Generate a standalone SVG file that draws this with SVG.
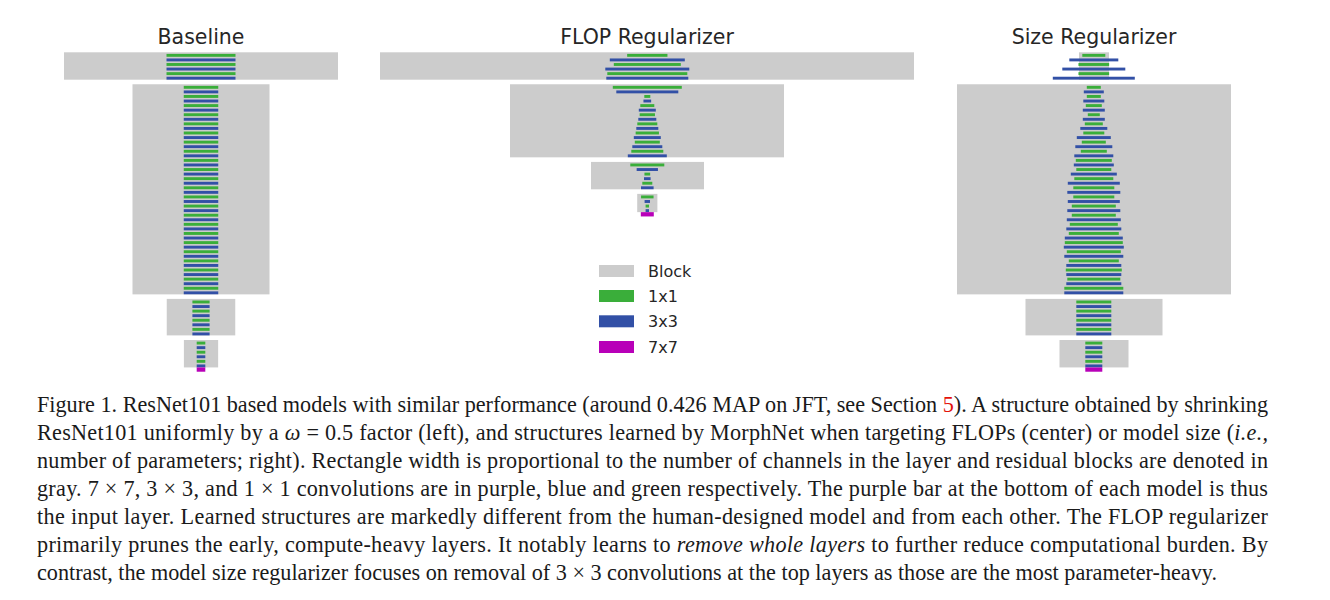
<svg xmlns="http://www.w3.org/2000/svg" width="1330" height="600" viewBox="0 0 1330 600">
<style>
.blk{fill:#cccccc}
.g{fill:#3aae3a}
.b{fill:#3250a6}
.p{fill:#b800b8}
.title{font-family:"DejaVu Sans",sans-serif;font-size:20.5px;fill:#262626;text-anchor:middle}
.leg{font-family:"DejaVu Sans",sans-serif;font-size:16px;fill:#262626}
.cap{font-family:"Liberation Serif",serif;font-size:22.2px;fill:#1a1a1a}
.it{font-style:italic}
.red{fill:#e3120b}
</style>
<rect width="1330" height="600" fill="#ffffff"/>

<g id="baseline">
<text class="title" x="201" y="44">Baseline</text>
<g id="baseline-stage5">
<rect class="blk" x="64" y="52.3" width="274" height="27.4"/>
<rect class="g" x="166.5" y="53.90" width="69" height="2.9"/>
<rect class="b" x="166.5" y="58.47" width="69" height="2.9"/>
<rect class="g" x="166.5" y="63.03" width="69" height="2.9"/>
<rect class="b" x="166.5" y="67.60" width="69" height="2.9"/>
<rect class="g" x="166.5" y="72.17" width="69" height="2.9"/>
<rect class="b" x="166.5" y="76.74" width="69" height="2.9"/>
</g>
<g id="baseline-stage4">
<rect class="blk" x="132.5" y="84.27" width="137" height="210.1"/>
<rect class="g" x="183.75" y="85.87" width="34.5" height="2.9"/>
<rect class="b" x="183.75" y="90.44" width="34.5" height="2.9"/>
<rect class="g" x="183.75" y="95.00" width="34.5" height="2.9"/>
<rect class="b" x="183.75" y="99.57" width="34.5" height="2.9"/>
<rect class="g" x="183.75" y="104.14" width="34.5" height="2.9"/>
<rect class="b" x="183.75" y="108.70" width="34.5" height="2.9"/>
<rect class="g" x="183.75" y="113.27" width="34.5" height="2.9"/>
<rect class="b" x="183.75" y="117.84" width="34.5" height="2.9"/>
<rect class="g" x="183.75" y="122.41" width="34.5" height="2.9"/>
<rect class="b" x="183.75" y="126.97" width="34.5" height="2.9"/>
<rect class="g" x="183.75" y="131.54" width="34.5" height="2.9"/>
<rect class="b" x="183.75" y="136.11" width="34.5" height="2.9"/>
<rect class="g" x="183.75" y="140.67" width="34.5" height="2.9"/>
<rect class="b" x="183.75" y="145.24" width="34.5" height="2.9"/>
<rect class="g" x="183.75" y="149.81" width="34.5" height="2.9"/>
<rect class="b" x="183.75" y="154.37" width="34.5" height="2.9"/>
<rect class="g" x="183.75" y="158.94" width="34.5" height="2.9"/>
<rect class="b" x="183.75" y="163.51" width="34.5" height="2.9"/>
<rect class="g" x="183.75" y="168.08" width="34.5" height="2.9"/>
<rect class="b" x="183.75" y="172.64" width="34.5" height="2.9"/>
<rect class="g" x="183.75" y="177.21" width="34.5" height="2.9"/>
<rect class="b" x="183.75" y="181.78" width="34.5" height="2.9"/>
<rect class="g" x="183.75" y="186.34" width="34.5" height="2.9"/>
<rect class="b" x="183.75" y="190.91" width="34.5" height="2.9"/>
<rect class="g" x="183.75" y="195.48" width="34.5" height="2.9"/>
<rect class="b" x="183.75" y="200.04" width="34.5" height="2.9"/>
<rect class="g" x="183.75" y="204.61" width="34.5" height="2.9"/>
<rect class="b" x="183.75" y="209.18" width="34.5" height="2.9"/>
<rect class="g" x="183.75" y="213.75" width="34.5" height="2.9"/>
<rect class="b" x="183.75" y="218.31" width="34.5" height="2.9"/>
<rect class="g" x="183.75" y="222.88" width="34.5" height="2.9"/>
<rect class="b" x="183.75" y="227.45" width="34.5" height="2.9"/>
<rect class="g" x="183.75" y="232.01" width="34.5" height="2.9"/>
<rect class="b" x="183.75" y="236.58" width="34.5" height="2.9"/>
<rect class="g" x="183.75" y="241.15" width="34.5" height="2.9"/>
<rect class="b" x="183.75" y="245.71" width="34.5" height="2.9"/>
<rect class="g" x="183.75" y="250.28" width="34.5" height="2.9"/>
<rect class="b" x="183.75" y="254.85" width="34.5" height="2.9"/>
<rect class="g" x="183.75" y="259.42" width="34.5" height="2.9"/>
<rect class="b" x="183.75" y="263.98" width="34.5" height="2.9"/>
<rect class="g" x="183.75" y="268.55" width="34.5" height="2.9"/>
<rect class="b" x="183.75" y="273.12" width="34.5" height="2.9"/>
<rect class="g" x="183.75" y="277.68" width="34.5" height="2.9"/>
<rect class="b" x="183.75" y="282.25" width="34.5" height="2.9"/>
<rect class="g" x="183.75" y="286.82" width="34.5" height="2.9"/>
<rect class="b" x="183.75" y="291.38" width="34.5" height="2.9"/>
</g>
<g id="baseline-stage3">
<rect class="blk" x="166.75" y="298.9" width="68.5" height="36.5"/>
<rect class="g" x="192.4" y="300.52" width="17.2" height="2.9"/>
<rect class="b" x="192.4" y="305.09" width="17.2" height="2.9"/>
<rect class="g" x="192.4" y="309.65" width="17.2" height="2.9"/>
<rect class="b" x="192.4" y="314.22" width="17.2" height="2.9"/>
<rect class="g" x="192.4" y="318.79" width="17.2" height="2.9"/>
<rect class="b" x="192.4" y="323.35" width="17.2" height="2.9"/>
<rect class="g" x="192.4" y="327.92" width="17.2" height="2.9"/>
<rect class="b" x="192.4" y="332.49" width="17.2" height="2.9"/>
</g>
<g id="baseline-stage2">
<rect class="blk" x="183.9" y="340.02" width="34.25" height="27.4"/>
<rect class="g" x="196.7" y="341.62" width="8.6" height="2.9"/>
<rect class="b" x="196.7" y="346.19" width="8.6" height="2.9"/>
<rect class="g" x="196.7" y="350.76" width="8.6" height="2.9"/>
<rect class="b" x="196.7" y="355.32" width="8.6" height="2.9"/>
<rect class="g" x="196.7" y="359.89" width="8.6" height="2.9"/>
<rect class="b" x="196.7" y="364.46" width="8.6" height="2.9"/>
</g>
<rect id="baseline-input" class="p" x="196.7" y="367.42" width="8.6" height="4.3"/>
</g>

<g id="flop">
<text class="title" x="647" y="44">FLOP Regularizer</text>
<g id="flop-stage5">
<rect class="blk" x="380" y="52.3" width="534" height="27.4"/>
<rect class="g" x="627.15" y="53.90" width="40.3" height="2.9"/>
<rect class="b" x="609.8" y="58.47" width="75" height="2.9"/>
<rect class="g" x="613.8" y="63.03" width="67" height="2.9"/>
<rect class="b" x="605.3" y="67.60" width="84" height="2.9"/>
<rect class="g" x="607.3" y="72.17" width="80" height="2.9"/>
<rect class="b" x="606.3" y="76.74" width="82" height="2.9"/>
</g>
<g id="flop-stage4">
<rect class="blk" x="510" y="84.27" width="274" height="73.07"/>
<rect class="g" x="612.8" y="85.87" width="69" height="2.9"/>
<rect class="b" x="616.3" y="90.44" width="62" height="2.9"/>
<rect class="g" x="644.3" y="95.00" width="6" height="2.9"/>
<rect class="b" x="643.45" y="99.57" width="7.7" height="2.9"/>
<rect class="g" x="640.3" y="104.14" width="14" height="2.9"/>
<rect class="b" x="638.8" y="108.70" width="17" height="2.9"/>
<rect class="g" x="639.65" y="113.27" width="15.3" height="2.9"/>
<rect class="b" x="638.3" y="117.84" width="18" height="2.9"/>
<rect class="g" x="637.3" y="122.41" width="20" height="2.9"/>
<rect class="b" x="636.3" y="126.97" width="22" height="2.9"/>
<rect class="g" x="635.65" y="131.54" width="23.3" height="2.9"/>
<rect class="b" x="633.8" y="136.11" width="27" height="2.9"/>
<rect class="g" x="634.8" y="140.67" width="25" height="2.9"/>
<rect class="b" x="632.3" y="145.24" width="30" height="2.9"/>
<rect class="g" x="631.3" y="149.81" width="32" height="2.9"/>
<rect class="b" x="627.8" y="154.37" width="39" height="2.9"/>
</g>
<g id="flop-stage3">
<rect class="blk" x="591" y="161.91" width="113" height="27.4"/>
<rect class="g" x="630.3" y="163.51" width="34" height="2.9"/>
<rect class="b" x="636.65" y="168.08" width="21.3" height="2.9"/>
<rect class="g" x="644.45" y="172.64" width="5.7" height="2.9"/>
<rect class="b" x="644.0" y="177.21" width="6.6" height="2.9"/>
<rect class="g" x="642.3" y="181.78" width="10" height="2.9"/>
<rect class="b" x="641.0" y="186.34" width="12.6" height="2.9"/>
</g>
<g id="flop-stage2">
<rect class="blk" x="637.2" y="193.88" width="20.2" height="18.27"/>
<rect class="g" x="641.05" y="195.48" width="12.5" height="2.9"/>
<rect class="b" x="644.6" y="200.04" width="5.4" height="2.9"/>
<rect class="g" x="645.6" y="204.61" width="3.4" height="2.9"/>
<rect class="b" x="645.6" y="209.18" width="3.4" height="2.9"/>
</g>
<rect id="flop-input" class="p" x="640.8" y="212.15" width="13" height="4.3"/>
</g>

<g id="size">
<text class="title" x="1094" y="44">Size Regularizer</text>
<g id="size-stage5">
<rect class="blk" x="1079" y="52.3" width="30" height="27.4"/>
<rect class="g" x="1082.3" y="53.90" width="23" height="2.9"/>
<rect class="b" x="1069.3" y="58.47" width="49" height="2.9"/>
<rect class="g" x="1078.45" y="63.03" width="30.7" height="2.9"/>
<rect class="b" x="1062.3" y="67.60" width="63" height="2.9"/>
<rect class="g" x="1078.45" y="72.17" width="30.7" height="2.9"/>
<rect class="b" x="1052.8" y="76.74" width="82" height="2.9"/>
</g>
<g id="size-stage4">
<rect class="blk" x="957" y="84.27" width="274" height="210.1"/>
<rect class="g" x="1086.8" y="85.87" width="14" height="2.9"/>
<rect class="b" x="1083.8" y="90.44" width="20" height="2.9"/>
<rect class="g" x="1086.8" y="95.00" width="14" height="2.9"/>
<rect class="b" x="1083.3" y="99.57" width="21" height="2.9"/>
<rect class="g" x="1085.8" y="104.14" width="16" height="2.9"/>
<rect class="b" x="1082.8" y="108.70" width="22" height="2.9"/>
<rect class="g" x="1087.8" y="113.27" width="12" height="2.9"/>
<rect class="b" x="1082.8" y="117.84" width="22" height="2.9"/>
<rect class="g" x="1084.8" y="122.41" width="18" height="2.9"/>
<rect class="b" x="1080.3" y="126.97" width="27" height="2.9"/>
<rect class="g" x="1083.3" y="131.54" width="21" height="2.9"/>
<rect class="b" x="1076.8" y="136.11" width="34" height="2.9"/>
<rect class="g" x="1081.8" y="140.67" width="24" height="2.9"/>
<rect class="b" x="1075.3" y="145.24" width="37" height="2.9"/>
<rect class="g" x="1080.8" y="149.81" width="26" height="2.9"/>
<rect class="b" x="1074.3" y="154.37" width="39" height="2.9"/>
<rect class="g" x="1075.8" y="158.94" width="36" height="2.9"/>
<rect class="b" x="1073.8" y="163.51" width="40" height="2.9"/>
<rect class="g" x="1076.3" y="168.08" width="35" height="2.9"/>
<rect class="b" x="1070.8" y="172.64" width="46" height="2.9"/>
<rect class="g" x="1074.3" y="177.21" width="39" height="2.9"/>
<rect class="b" x="1067.8" y="181.78" width="52" height="2.9"/>
<rect class="g" x="1073.3" y="186.34" width="41" height="2.9"/>
<rect class="b" x="1067.3" y="190.91" width="53" height="2.9"/>
<rect class="g" x="1073.3" y="195.48" width="41" height="2.9"/>
<rect class="b" x="1067.8" y="200.04" width="52" height="2.9"/>
<rect class="g" x="1071.8" y="204.61" width="44" height="2.9"/>
<rect class="b" x="1067.3" y="209.18" width="53" height="2.9"/>
<rect class="g" x="1071.8" y="213.75" width="44" height="2.9"/>
<rect class="b" x="1066.8" y="218.31" width="54" height="2.9"/>
<rect class="g" x="1069.8" y="222.88" width="48" height="2.9"/>
<rect class="b" x="1066.3" y="227.45" width="55" height="2.9"/>
<rect class="g" x="1068.8" y="232.01" width="50" height="2.9"/>
<rect class="b" x="1064.8" y="236.58" width="58" height="2.9"/>
<rect class="g" x="1064.8" y="241.15" width="58" height="2.9"/>
<rect class="b" x="1063.8" y="245.71" width="60" height="2.9"/>
<rect class="g" x="1066.8" y="250.28" width="54" height="2.9"/>
<rect class="b" x="1064.3" y="254.85" width="59" height="2.9"/>
<rect class="g" x="1068.8" y="259.42" width="50" height="2.9"/>
<rect class="b" x="1066.3" y="263.98" width="55" height="2.9"/>
<rect class="g" x="1065.8" y="268.55" width="56" height="2.9"/>
<rect class="b" x="1066.3" y="273.12" width="55" height="2.9"/>
<rect class="g" x="1067.3" y="277.68" width="53" height="2.9"/>
<rect class="b" x="1066.3" y="282.25" width="55" height="2.9"/>
<rect class="g" x="1064.3" y="286.82" width="59" height="2.9"/>
<rect class="b" x="1064.3" y="291.38" width="59" height="2.9"/>
</g>
<g id="size-stage3">
<rect class="blk" x="1025.5" y="298.9" width="137" height="36.5"/>
<rect class="g" x="1076.3" y="300.52" width="35" height="2.9"/>
<rect class="b" x="1076.3" y="305.09" width="35" height="2.9"/>
<rect class="g" x="1076.3" y="309.65" width="35" height="2.9"/>
<rect class="b" x="1076.3" y="314.22" width="35" height="2.9"/>
<rect class="g" x="1076.3" y="318.79" width="35" height="2.9"/>
<rect class="b" x="1076.3" y="323.35" width="35" height="2.9"/>
<rect class="g" x="1076.3" y="327.92" width="35" height="2.9"/>
<rect class="b" x="1076.3" y="332.49" width="35" height="2.9"/>
</g>
<g id="size-stage2">
<rect class="blk" x="1059.5" y="340.02" width="69" height="27.4"/>
<rect class="g" x="1085.3" y="341.62" width="17" height="2.9"/>
<rect class="b" x="1085.3" y="346.19" width="17" height="2.9"/>
<rect class="g" x="1085.3" y="350.76" width="17" height="2.9"/>
<rect class="b" x="1085.3" y="355.32" width="17" height="2.9"/>
<rect class="g" x="1085.3" y="359.89" width="17" height="2.9"/>
<rect class="b" x="1085.3" y="364.46" width="17" height="2.9"/>
</g>
<rect id="size-input" class="p" x="1085.3" y="367.42" width="17" height="4.3"/>
</g>

<g id="legend">
<rect class="blk" x="599" y="265" width="35" height="12"/>
<text class="leg" x="648" y="276.5">Block</text>
<rect class="g" x="599" y="290" width="35" height="12"/>
<text class="leg" x="648" y="302">1x1</text>
<rect class="b" x="599" y="315.3" width="35" height="12"/>
<text class="leg" x="648" y="327.3">3x3</text>
<rect class="p" x="599" y="341" width="35" height="12"/>
<text class="leg" x="648" y="353">7x7</text>
</g>

<g id="caption" class="cap">
<text x="37" y="411.5" textLength="1231" lengthAdjust="spacing">Figure 1. ResNet101 based models with similar performance (around 0.426 MAP on JFT, see Section <tspan class="red">5</tspan>). A structure obtained by shrinking</text>
<text x="37" y="439.5" textLength="1231" lengthAdjust="spacing">ResNet101 uniformly by a <tspan class="it">ω</tspan> = 0.5 factor (left), and structures learned by MorphNet when targeting FLOPs (center) or model size (<tspan class="it">i.e.,</tspan></text>
<text x="37" y="467.5" textLength="1231" lengthAdjust="spacing">number of parameters; right). Rectangle width is proportional to the number of channels in the layer and residual blocks are denoted in</text>
<text x="37" y="495.5" textLength="1231" lengthAdjust="spacing">gray. 7 × 7, 3 × 3, and 1 × 1 convolutions are in purple, blue and green respectively. The purple bar at the bottom of each model is thus</text>
<text x="37" y="523.5" textLength="1231" lengthAdjust="spacing">the input layer. Learned structures are markedly different from the human-designed model and from each other. The FLOP regularizer</text>
<text x="37" y="551.5" textLength="1231" lengthAdjust="spacing">primarily prunes the early, compute-heavy layers. It notably learns to <tspan class="it">remove whole layers</tspan> to further reduce computational burden. By</text>
<text x="37" y="579.5">contrast, the model size regularizer focuses on removal of 3 × 3 convolutions at the top layers as those are the most parameter-heavy.</text>
</g>
</svg>
